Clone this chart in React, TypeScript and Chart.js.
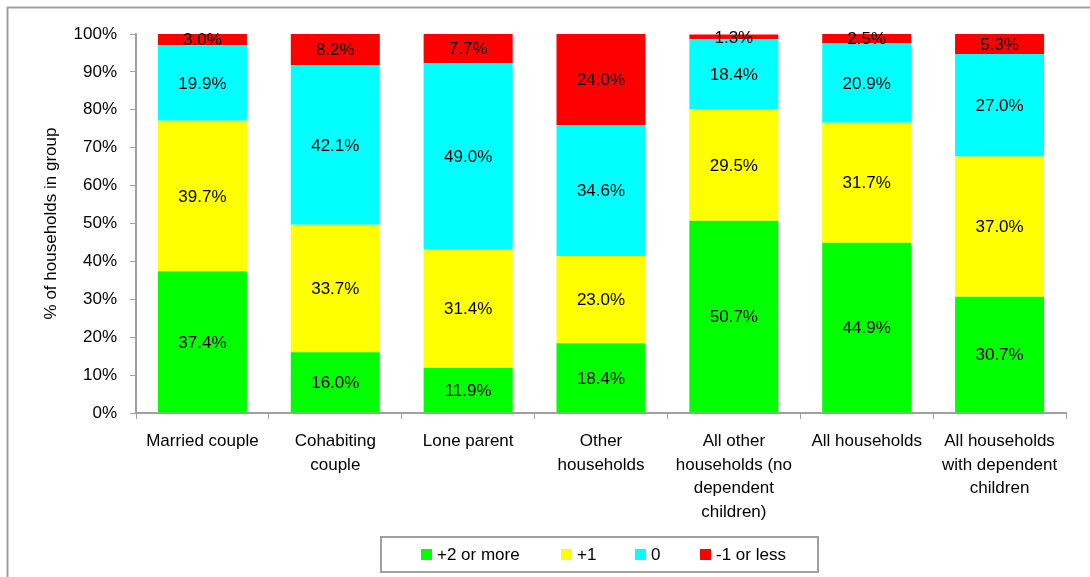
import React, { useEffect, useRef } from "react";
import { Chart, registerables } from "chart.js";

Chart.register(...registerables);

const categories: string[][] = [
  ["Married couple"],
  ["Cohabiting", "couple"],
  ["Lone parent"],
  ["Other", "households"],
  ["All other", "households (no", "dependent", "children)"],
  ["All households"],
  ["All households", "with dependent", "children"],
];

const plus2OrMore = [37.4, 16.0, 11.9, 18.4, 50.7, 44.9, 30.7];
const plus1 = [39.7, 33.7, 31.4, 23.0, 29.5, 31.7, 37.0];
const zero = [19.9, 42.1, 49.0, 34.6, 18.4, 20.9, 27.0];
const minus1OrLess = [3.0, 8.2, 7.7, 24.0, 1.3, 2.5, 5.3];

const seriesLabels = ["+2 or more", "+1", "0", "-1 or less"];
const seriesColors = ["#00FF00", "#FFFF00", "#00FFFF", "#FF0000"];

const FONT = "'Liberation Sans', Arial, sans-serif";
const GREY = "#a0a0a0";

const framePlugin = {
  id: "frame",
  beforeDraw(chart: any) {
    const ctx = chart.ctx;
    ctx.save();
    ctx.fillStyle = "#ffffff";
    ctx.fillRect(0, 0, chart.width, chart.height);
    ctx.strokeStyle = GREY;
    ctx.lineWidth = 2;
    ctx.strokeRect(7.5, 7.5, 1300, 800);
    ctx.restore();
  },
};

const dataLabelPlugin = {
  id: "dataLabels",
  afterDatasetsDraw(chart: any) {
    const ctx = chart.ctx;
    ctx.save();
    ctx.font = `17px ${FONT}`;
    ctx.fillStyle = "#000";
    ctx.textAlign = "center";
    ctx.textBaseline = "middle";
    chart.data.datasets.forEach((ds: any, di: number) => {
      const meta = chart.getDatasetMeta(di);
      meta.data.forEach((bar: any, i: number) => {
        const v = ds.data[i];
        const y = (bar.y + bar.base) / 2;
        ctx.fillText(v.toFixed(1) + "%", bar.x, y + 1);
      });
    });
    ctx.restore();
  },
};

const legendPlugin = {
  id: "boxLegend",
  afterDraw(chart: any) {
    const ctx = chart.ctx;
    ctx.save();
    ctx.strokeStyle = GREY;
    ctx.lineWidth = 2;
    ctx.strokeRect(381, 537, 437, 35);
    ctx.font = `17px ${FONT}`;
    ctx.textBaseline = "middle";
    ctx.textAlign = "left";
    const xs = [421, 561, 635, 700];
    chart.data.datasets.forEach((ds: any, i: number) => {
      const x = xs[i];
      ctx.fillStyle = ds.backgroundColor;
      ctx.fillRect(x, 549, 11, 11);
      ctx.fillStyle = "#000";
      ctx.fillText(ds.label, x + 16, 555);
    });
    ctx.restore();
  },
};

export default function App() {
  const ref = useRef<HTMLCanvasElement | null>(null);

  useEffect(() => {
    if (!ref.current) return;
    const series = [plus2OrMore, plus1, zero, minus1OrLess];
    const chart = new Chart(ref.current, {
      type: "bar",
      data: {
        labels: categories,
        datasets: series.map((d, i) => ({
          label: seriesLabels[i],
          data: d,
          backgroundColor: seriesColors[i],
          borderWidth: 0,
          categoryPercentage: 1,
          barPercentage: 0.67,
        })),
      },
      options: {
        responsive: false,
        animation: false,
        layout: { padding: { left: 0, top: 34, right: 24, bottom: 0 } },
        plugins: {
          legend: { display: false },
          tooltip: { enabled: false },
        },
        scales: {
          x: {
            stacked: true,
            afterFit: (scale: any) => {
              scale.height = 164;
            },
            grid: {
              display: true,
              drawOnChartArea: false,
              drawTicks: true,
              tickLength: 6,
              color: GREY,
              offset: true,
            },
            border: { display: true, color: GREY, width: 2 },
            ticks: {
              color: "#000",
              font: { family: FONT, size: 17, lineHeight: 1.38 },
              padding: 11,
              maxRotation: 0,
              autoSkip: false,
            },
          },
          y: {
            stacked: true,
            min: 0,
            max: 100,
            afterFit: (scale: any) => {
              scale.width = 136;
            },
            grid: {
              display: true,
              drawOnChartArea: false,
              drawTicks: true,
              tickLength: 6,
              color: GREY,
            },
            border: { display: true, color: GREY, width: 2 },
            ticks: {
              stepSize: 10,
              color: "#000",
              font: { family: FONT, size: 17 },
              padding: 13,
              callback: (v: any) => v + "%",
            },
            title: {
              display: true,
              text: "% of households in group",
              color: "#000",
              font: { family: FONT, size: 17 },
              padding: { top: 41, bottom: 0 },
            },
          },
        },
      },
      plugins: [framePlugin, dataLabelPlugin, legendPlugin],
    });
    return () => chart.destroy();
  }, []);

  return (
    <div style={{ position: "absolute", left: 0, top: 0, width: 1090, height: 577 }}>
      <canvas ref={ref} width={1090} height={577} style={{ display: "block" }} />
    </div>
  );
}
